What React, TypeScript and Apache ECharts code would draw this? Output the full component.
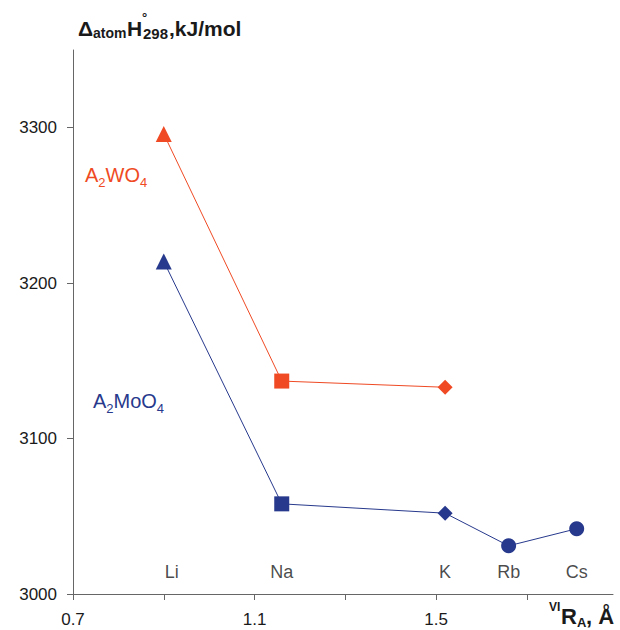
import React, { useEffect, useRef } from "react";
import * as echarts from "echarts";

// Cations and their (crystal) ionic radii, Å
const cations = ["Li", "Na", "K", "Rb", "Cs"];
const radii = [0.9, 1.16, 1.52, 1.66, 1.81];
// Atomization enthalpies, kJ/mol
const tungstates = [3296, 3137, 3133]; // Li, Na, K
const molybdates = [3214, 3058, 3052, 3031, 3042]; // Li, Na, K, Rb, Cs
const symbols = ["triangle", "rect", "diamond", "circle", "circle"];
const symbolSizes = [16, 15, 15, 15, 15];

// Axis ticks/labels
const yTicks = [3000, 3100, 3200, 3300];
const xTicks = [0.7, 0.9, 1.1, 1.3, 1.5, 1.7];
const xLabels = [0.7, 1.1, 1.5];

const RED = "#EF4A24";
const BLUE = "#27398C";
const FONT = "Liberation Sans, Arial, sans-serif";
const TXT = "#1a1a1a";

function pts(vals: number[]) {
  return vals.map((v, i) => ({
    value: [radii[i], v],
    symbol: symbols[i],
    symbolSize: symbolSizes[i],
  }));
}

function t(text: string, x: number, y: number, size: number, color: string, bold: boolean) {
  return {
    type: "text",
    x,
    y,
    style: {
      text,
      fill: color,
      font: `${bold ? "bold " : ""}${size}px ${FONT}`,
      verticalAlign: "middle",
      align: "left",
    },
  };
}

export default function App() {
  const ref = useRef<HTMLDivElement>(null);
  useEffect(() => {
    if (!ref.current) return;
    const chart = echarts.init(ref.current, undefined, { renderer: "svg" });
    chart.setOption({
      animation: false,
      backgroundColor: "#ffffff",
      grid: { left: 73, right: 7, top: 50, bottom: 36, containLabel: false },
      xAxis: {
        type: "value",
        min: 0.7,
        max: 1.89,
        splitLine: { show: false },
        axisLine: { lineStyle: { color: "#666", width: 1 } },
        axisTick: { customValues: xTicks, length: 6, lineStyle: { color: "#666" } },
        axisLabel: {
          customValues: xLabels,
          formatter: (v: number) => v.toFixed(1),
          fontSize: 17,
          fontFamily: FONT,
          color: TXT,
          margin: 17,
        },
      },
      yAxis: {
        type: "value",
        min: 3000,
        max: 3350,
        splitLine: { show: false },
        axisLine: { show: true, lineStyle: { color: "#666", width: 1 } },
        axisTick: { show: true, customValues: yTicks, length: 6, lineStyle: { color: "#666" } },
        axisLabel: {
          customValues: yTicks,
          formatter: (v: number) => String(Math.round(v)),
          fontSize: 17,
          fontFamily: FONT,
          color: TXT,
          margin: 16,
        },
      },
      series: [
        {
          type: "line",
          data: pts(tungstates),
          itemStyle: { color: RED },
          lineStyle: { color: RED, width: 1 },
          z: 3,
        },
        {
          type: "line",
          data: pts(molybdates),
          itemStyle: { color: BLUE },
          lineStyle: { color: BLUE, width: 1 },
          z: 3,
        },
        {
          type: "scatter",
          symbolSize: 0,
          silent: true,
          data: cations.map((c, i) => ({
            value: [radii[i], 3014],
            name: c,
            label: i === 0 ? { offset: [8, 0] } : undefined,
          })),
          label: {
            show: true,
            position: "inside",
            formatter: (p: any) => p.name,
            fontSize: 18,
            fontFamily: FONT,
            color: TXT,
          },
        },
      ],
      graphic: [
        // y-axis title: Δ_atom H°_298, kJ/mol
        t("Δ", 78, 28, 21, TXT, true),
        t("atom", 93, 33, 14, TXT, true),
        t("H", 127, 28, 21, TXT, true),
        t("°", 142, 17, 13, TXT, true),
        t("298", 143, 33, 15, TXT, true),
        t(",kJ/mol", 169, 28, 21, TXT, true),
        // series labels
        t("A", 85, 175, 20, RED, false),
        t("2", 98.3, 182.5, 13, RED, false),
        t("WO", 105.5, 175, 20, RED, false),
        t("4", 139.9, 182.5, 13, RED, false),
        t("A", 93, 401, 20, BLUE, false),
        t("2", 106.3, 408.5, 13, BLUE, false),
        t("MoO", 113.5, 401, 20, BLUE, false),
        t("4", 156.8, 408.5, 13, BLUE, false),
        // x-axis title: VI R_A, Å
        t("VI", 549, 607, 12, TXT, true),
        t("R", 561, 616, 22, TXT, true),
        t("A", 577, 622, 13, TXT, true),
        t(", Å", 586, 616, 22, TXT, true),
      ],
    });
    return () => chart.dispose();
  }, []);
  return (
    <div
      ref={ref}
      style={{ position: "fixed", left: 0, top: 0, width: 620, height: 630, background: "#fff" }}
    />
  );
}
